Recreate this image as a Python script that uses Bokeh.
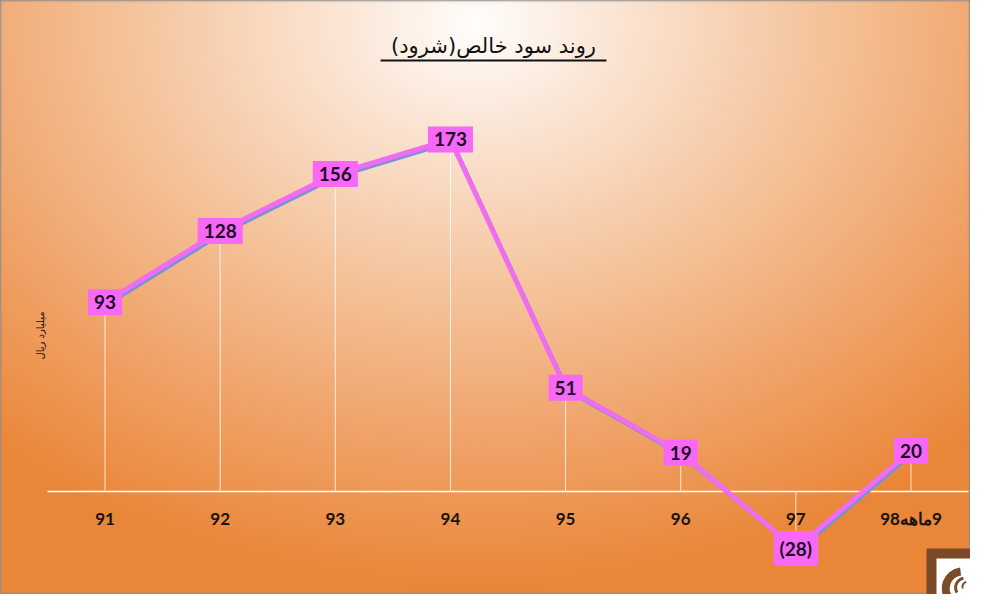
from math import pi

from bokeh.core.properties import value
from bokeh.embed import file_html
from bokeh.models import BoxAnnotation, ColumnDataSource, Label, Range1d
from bokeh.plotting import figure
from bokeh.resources import INLINE

# net profit per year (billion rial)
years = ["91", "92", "93", "94", "95", "96", "97", "9ماهه98"]
profit = [93, 128, 156, 173, 51, 19, -28, 20]
year_labels = ["91", "92", "93", "94", "95", "96", "97", "98\u200eماهه\u200e9"]
point_labels = [f"({abs(v)})" if v < 0 else str(v) for v in profit]

title_text = "روند سود خالص(شرود)\u200f"
unit_text = "میلیارد ریال"

pos = list(range(len(years)))
source = ColumnDataSource(data={
    "pos": pos,
    "shadow_x": [i + 0.015 for i in pos],
    "profit": profit,
    "shadow_y": [v - 1.2 for v in profit],
    "zero": [0] * len(years),
    "label": point_labels,
    "tick": year_labels,
})

p = figure(x_range=Range1d(-0.908, len(years) - 0.483), y_range=Range1d(-50.6, 241.3),
           width=970, height=594, output_backend="svg", toolbar_location=None, tools="",
           min_border=0, background_fill_color=None, border_fill_color=None,
           outline_line_color=None,
           styles={"background": "radial-gradient(ellipse 75% 95% at 49% 4%, #fffdfb 0%, #fbe6d6 18%, "
                                 "#f5c6a0 45%, #f0a56c 72%, #ea8638 100%)",
                   "box-shadow": "inset 0 0 2px 1px #8c8c8c"})

p.xaxis.visible = False
p.yaxis.visible = False
p.grid.grid_line_color = None

# title with underline
p.add_layout(Label(x=493, y=45, x_units="canvas", y_units="canvas", text=title_text,
                   text_align="center", text_baseline="middle", text_font="DejaVu Sans",
                   text_font_size="21px", text_color="#111111"))
p.add_layout(BoxAnnotation(left=380, right=606, top=59, bottom=61,
                           left_units="canvas", right_units="canvas",
                           top_units="canvas", bottom_units="canvas",
                           fill_color="#111111", fill_alpha=1, line_color=None))

# zero line and drop lines
p.segment(x0=[-0.5], y0=[0], x1=[len(years) - 0.5], y1=[0], line_color="white", line_width=1.5)
p.segment(x0="pos", y0="zero", x1="pos", y1="profit", source=source,
          line_color="white", line_width=1, line_alpha=0.8)

# line with shadow
p.line(x="shadow_x", y="shadow_y", source=source, line_color="#7a90d8", line_width=4)
p.line(x="pos", y="profit", source=source, line_color="#f06cf0", line_width=5)

p.text(x="pos", y="profit", text="label", source=source,
       text_align="center", text_baseline="middle",
       text_font=value("Lato"), text_font_style="bold", text_font_size="19px",
       text_color="#1c0b22", background_fill_color="#f868f8", padding=6)

# category labels under the zero line
p.text(x="pos", y="zero", text="tick", source=source, y_offset=27,
       text_align="center", text_baseline="middle", text_font=value("Lato"),
       text_font_style="bold", text_font_size="17px", text_color="#151515")

# unit label
p.add_layout(Label(x=40, y=335, x_units="canvas", y_units="canvas", text=unit_text,
                   angle=pi / 2, text_align="center", text_baseline="middle",
                   text_font="DejaVu Sans", text_font_size="10px", text_color="#111111"))

# logo block (bottom right corner)
p.add_layout(BoxAnnotation(left=926, right=970, top=548, bottom=594,
                           left_units="canvas", right_units="canvas",
                           top_units="canvas", bottom_units="canvas",
                           fill_color="#7b4a28", fill_alpha=1, line_color=None))
p.add_layout(BoxAnnotation(left=936, right=970, top=558, bottom=594,
                           left_units="canvas", right_units="canvas",
                           top_units="canvas", bottom_units="canvas",
                           fill_color="white", fill_alpha=1, line_color=None))
p.annular_wedge(x=[7.45, 7.47, 7.49], y=[-47.6, -47.2, -46.8],
                inner_radius=[13, 8, 4], outer_radius=[21, 11, 6],
                inner_radius_units="screen", outer_radius_units="screen",
                start_angle=[1.7, 1.75, 1.8], end_angle=[3.9, 3.7, 3.5],
                fill_color="#7b4a28", line_color=None, level="overlay")

open("out.html", "w").write(file_html(p, INLINE))
